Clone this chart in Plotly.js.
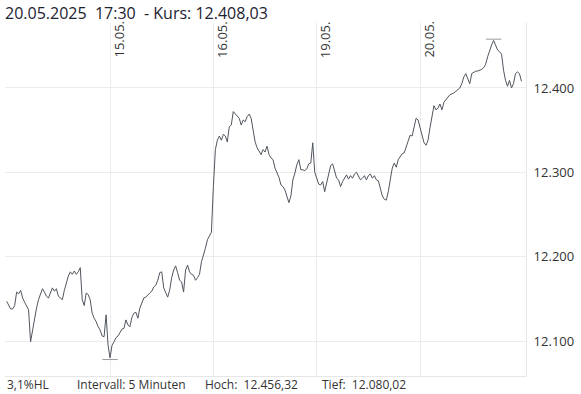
<!DOCTYPE html>
<html>
<head>
<meta charset="utf-8">
<script src="https://cdn.plot.ly/plotly-3.0.1.min.js"></script>
<style>html,body{margin:0;padding:0;background:#fff;}#chart{width:581px;height:394px;}</style>
</head>
<body>
<div id="chart"></div>
<script>
// Trading days shown (10-minute samples of a 5-minute chart, 09:00 .. 17:30)
const dayLabels = ["14.05.", "15.05.", "16.05.", "19.05.", "20.05."];
const day1 = [12147,12142,12138,12138,12142,12158,12156,12160,12151,12146,12142,12137,12099,12113,12127,12139,12149,12155,12162,12158,12153,12151,12158,12163,12159,12162,12153,12151,12149,12160,12170,12177,12182,12179,12183,12179,12182,12187,12149,12142,12157,12155,12149,12133,12127,12123,12117,12113,12106,12105,12131,12095];
const day2 = [12080.02,12095,12099,12104,12106,12111,12114,12115,12125,12119,12117,12128,12133,12134,12127,12139,12144,12151,12152,12155,12157,12159,12164,12166,12172,12181,12182,12163,12158,12152,12160,12175,12184,12189,12181,12172,12170,12158,12184,12190,12182,12179,12178,12172,12175,12179,12194,12201,12210,12220,12225,12229];
const day3 = [12283,12327,12338,12343,12338,12345,12343,12336,12354,12356,12372,12369,12367,12364,12356,12362,12360,12366,12369,12364,12350,12336,12329,12325,12321,12327,12324,12331,12321,12317,12315,12305,12300,12294,12285,12283,12279,12272,12264,12272,12291,12299,12309,12315,12303,12303,12302,12304,12310,12311,12335,12300];
const day4 = [12293,12286,12285,12289,12277,12287,12297,12308,12310,12300,12293,12291,12283,12289,12293,12297,12292,12296,12293,12298,12300,12296,12291,12293,12296,12291,12296,12298,12293,12296,12291,12290,12279,12272,12268,12267,12277,12293,12305,12311,12306,12315,12318,12322,12323,12330,12336,12344,12343,12353,12364,12362];
const day5 = [12353,12341,12335,12332,12338,12353,12369,12379,12374,12376,12381,12374,12383,12386,12389,12392,12393,12394,12396,12398,12400,12405,12413,12417,12412,12405,12417,12419,12420,12420,12421,12422,12424,12428,12437,12445,12451,12456.32,12451,12445,12443,12440,12421,12409,12402,12409,12400,12405,12417,12419,12417,12408.03];
const days = [day1, day2, day3, day4, day5];

const yTicks = [12100, 12200, 12300, 12400];
const titleText = "20.05.2025\u00a0\u00a017:30\u00a0\u00a0- Kurs: 12.408,03";
const footer = ["3,1%HL", "Intervall: 5 Minuten", "Hoch:\u00a0\u00a012.456,32", "Tief:\u00a0\u00a012.080,02"];
const footerX = [5, 75, 203, 320];

// build series from the arrays
const xs = [], ys = [], dayStarts = [];
let idx = 0;
days.forEach(function (d) {
  dayStarts.push(idx);
  d.forEach(function (v) { xs.push(idx); ys.push(v); idx++; });
});
let iMax = 0, iMin = 0;
ys.forEach(function (v, i) { if (v > ys[iMax]) iMax = i; if (v < ys[iMin]) iMin = i; });

const W = 581, H = 394;
const mL = 5, mR = 55, mT = 23, mB = 18;
const font = "Open Sans, Noto Sans, sans-serif";

const traces = [
  { x: xs, y: ys, type: 'scatter', mode: 'lines',
    line: { color: '#50565e', width: 1 }, hoverinfo: 'skip' },
  { x: [xs[iMax], xs[iMin]], y: [ys[iMax] + 1.5, ys[iMin] - 2], type: 'scatter', mode: 'markers',
    marker: { symbol: 'line-ew', size: 11, color: '#9a9a9a', line: { color: '#9a9a9a', width: 1 } },
    hoverinfo: 'skip' }
];

const annotations = [];
for (let d = 1; d < dayLabels.length; d++) {
  annotations.push({
    x: dayStarts[d], xref: 'x', y: 1, yref: 'paper',
    text: dayLabels[d], textangle: -90, showarrow: false,
    xanchor: 'left', yanchor: 'top', xshift: -3, yshift: 4,
    font: { family: font, size: 13, color: '#333333' }
  });
}
footer.forEach(function (t, i) {
  annotations.push({
    x: (footerX[i] - mL) / (W - mL - mR), xref: 'paper',
    y: -(385 - (H - mB)) / (H - mT - mB), yref: 'paper',
    text: t, showarrow: false, xanchor: 'left', yanchor: 'middle',
    font: { family: font, size: 12, color: '#333333' }
  });
});

const layout = {
  width: W, height: H,
  margin: { l: mL, r: mR, t: mT, b: mB, pad: 0 },
  paper_bgcolor: '#ffffff', plot_bgcolor: '#ffffff',
  separators: ',.',
  showlegend: false,
  title: { text: titleText, x: 5 / W, xanchor: 'left', xref: 'container',
           y: 1 - 13 / H, yanchor: 'middle', yref: 'container',
           font: { family: font, size: 16, color: '#1c2230' } },
  xaxis: {
    range: [-0.86, 261.3], tickvals: dayStarts.slice(1), showticklabels: false,
    showgrid: true, gridcolor: '#ebebeb', gridwidth: 1, zeroline: false,
    showline: true, linecolor: '#e6e6e6', linewidth: 1, ticks: '', fixedrange: true
  },
  yaxis: {
    side: 'right', range: [12058.5, 12477], tickvals: yTicks, tickformat: ',d',
    showgrid: true, gridcolor: '#ebebeb', gridwidth: 1, zeroline: false,
    showline: true, linecolor: '#e6e6e6', linewidth: 1,
    ticks: 'outside', ticklen: 4, tickcolor: 'rgba(0,0,0,0)',
    tickfont: { family: font, size: 13, color: '#333333' }, fixedrange: true
  },
  annotations: annotations
};

Plotly.newPlot('chart', traces, layout, { staticPlot: true, displayModeBar: false });
</script>
</body>
</html>
